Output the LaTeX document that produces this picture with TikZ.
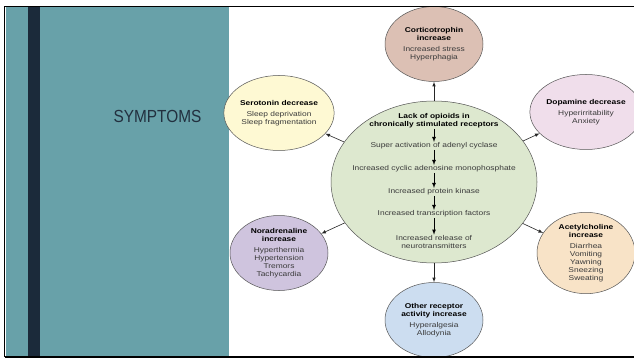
\documentclass[tikz,border=0pt]{standalone}
\usepackage{fontspec}
\setmainfont{Liberation Sans}
\newfontfamily\diagfont[FakeStretch=1.2]{Liberation Sans}
\newfontfamily\titlefont[FakeStretch=0.88]{Liberation Sans}
\usetikzlibrary{shapes.geometric,arrows}

\definecolor{panelteal}{HTML}{68A1A9}
\definecolor{stripenavy}{HTML}{1B2A3A}
\definecolor{titlenavy}{HTML}{22303F}
\definecolor{bodygray}{HTML}{3A3A3A}
\definecolor{rimgray}{HTML}{555555}
\definecolor{cortfill}{HTML}{DCC0B4}
\definecolor{serofill}{HTML}{FEF9D3}
\definecolor{dopafill}{HTML}{F0DEEB}
\definecolor{norafill}{HTML}{CFC4DE}
\definecolor{acetfill}{HTML}{F8E3C7}
\definecolor{otherfill}{HTML}{CCDDF0}
\definecolor{opioidfill}{HTML}{DDE8CF}

\newcommand\hd[1]{\textcolor{black}{\bfseries #1}}

\begin{document}
\begin{tikzpicture}[x=1pt,y=-1pt,>=latex,
	bubble/.style={ellipse,draw=rimgray,line width=0.5pt,minimum width=98pt,minimum height=75pt,inner sep=0pt,align=center,text=bodygray,font=\diagfont\fontsize{7}{8}\selectfont},
	stage/.style={inner sep=0.5pt,align=center,text=bodygray,font=\diagfont\fontsize{7}{8}\selectfont},
	link/.style={->,draw=black!85,line width=0.6pt},
	chain/.style={->,draw=black,line width=0.8pt}]
		\useasboundingbox (0,0) rectangle (634,358);
		%\draw [help lines] (0,0) grid (634,358);
		\fill [white] (0,0) rectangle (634,358);
		\fill [panelteal] (6,7) rectangle (229,356);
		\fill [stripenavy] (28,7) rectangle (40,356);
		\node (title) [text=titlenavy,font=\titlefont\fontsize{17.5}{20}\selectfont] at (157.5,116) {SYMPTOMS};
		
		\node (opioid) [ellipse,draw=rimgray,line width=0.5pt,fill=opioidfill,minimum width=206pt,minimum height=162pt] at (434,182) {};
		\node (s0) [stage] at (434,121) {\hd{Lack of opioids in}\\ \hd{chronically stimulated receptors}};
		\node (s1) [stage] at (434,146) {Super activation of adenyl cyclase};
		\node (s2) [stage] at (434,169) {Increased cyclic adenosine monophosphate};
		\node (s3) [stage] at (434,192) {Increased protein kinase};
		\node (s4) [stage] at (434,214) {Increased transcription factors};
		\node (s5) [stage] at (434,242) {Increased release of\\ neurotransmitters};
		\draw [chain] (s0) -- (s1);
		\draw [chain] (s1) -- (s2);
		\draw [chain] (s2) -- (s3);
		\draw [chain] (s3) -- (s4);
		\draw [chain] (s4) -- (s5);
		
		\node (cort) [bubble,fill=cortfill] at (434,44) {\hd{Corticotrophin}\\ \hd{increase}\\[3pt] Increased stress\\ Hyperphagia};
		\node (sero) [bubble,fill=serofill] at (279,113) {\hd{Serotonin decrease}\\[3pt] Sleep deprivation\\ Sleep fragmentation};
		\node (dopa) [bubble,fill=dopafill] at (586,112) {\hd{Dopamine decrease}\\[3pt] Hyperirritability\\ Anxiety};
		\node (nora) [bubble,fill=norafill] at (279,253) {\hd{Noradrenaline}\\ \hd{increase}\\[3pt] Hyperthermia\\ Hypertension\\ Tremors\\ Tachycardia};
		\node (acet) [bubble,fill=acetfill] at (586,253) {\hd{Acetylcholine}\\ \hd{increase}\\[3pt] Diarrhea\\ Vomiting\\ Yawning\\ Sneezing\\ Sweating};
		\node (other) [bubble,fill=otherfill] at (434,320) {\hd{Other receptor}\\ \hd{activity increase}\\[3pt] Hyperalgesia\\ Allodynia};
		
		\draw [link] (opioid) -- (cort);
		\draw [link] (opioid) -- (sero);
		\draw [link] (opioid) -- (dopa);
		\draw [link] (opioid) -- (nora);
		\draw [link] (opioid) -- (acet);
		\draw [link] (opioid) -- (other);
		
		% slide frame
		\draw [line width=1.8pt] (4.5,357) -- (4.5,6.5) -- (634,6.5);
		\draw [line width=1.8pt] (4.5,357) -- (634,357);
	\end{tikzpicture}
\end{document}
